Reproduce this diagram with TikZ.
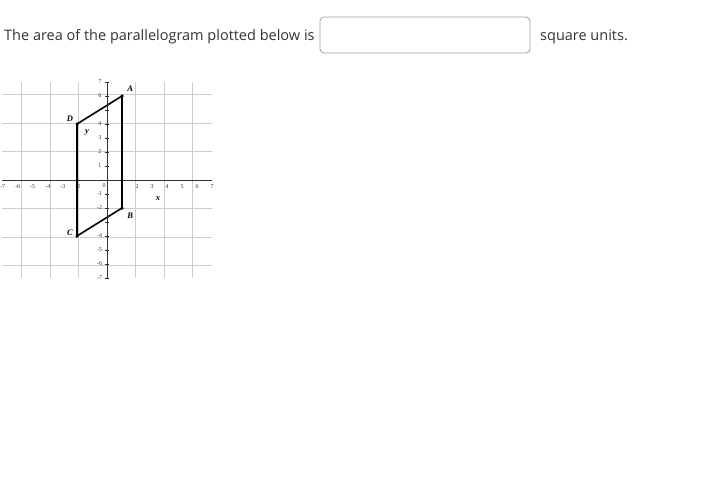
\documentclass[tikz,border=0pt]{standalone}
\usepackage{fontspec}
\setmainfont{Open Sans}
\newfontfamily\axfont{Liberation Serif}
\definecolor{txt}{HTML}{333333}
\tikzset{
  qtext/.style={anchor=west, text=txt, font=\fontsize{14.5}{17}\selectfont, inner sep=0pt},
  ansbox/.style={draw=gray!75, rounded corners=4pt, line width=0.8pt, minimum width=210pt, minimum height=36pt},
  ticklbl/.style={font=\axfont\fontsize{6}{7}\selectfont, inner sep=0pt, text=black!80},
  vlbl/.style={font=\axfont\bfseries\itshape\fontsize{8.5}{9}\selectfont, inner sep=0pt},
  gridline/.style={gray!40, line width=0.5pt},
  axisline/.style={black!80, line width=0.6pt},
  edge/.style={black, line width=1.6pt},
  vdot/.style={circle, fill=black, inner sep=0pt, minimum size=3.5pt}
}
\begin{document}
\begin{tikzpicture}[x=1pt,y=-1pt]
\useasboundingbox (0,0) rectangle (722,503);
\node[qtext] (q) at (4,36.5) {The area of the parallelogram plotted below is};
\node[ansbox] (ans) at (425,35) {};
\node[qtext] (u) at (540,36.5) {square units.};
\begin{scope}[shift={(107,180)}, x=15pt, y=14pt]
  \draw[gridline] (-7,-7) grid (7,7);
  \draw[axisline] (-7,0) -- (7,0);
  \draw[axisline] (0,-7) -- (0,7);
  \foreach \v in {-7,...,7} {\draw[axisline, line width=0.4pt] (-0.15,\v) -- (0.15,\v);}
  \foreach \v in {-7,-6,-5,-4,-3,-2} {\node[ticklbl] (xl\v) at (\v+0.05,-0.45) {\v};}
  \foreach \v in {2,3,4,5,6,7} {\node[ticklbl] (xl\v) at (\v,-0.45) {\v};}
  \node[ticklbl] (o) at (-0.2,-0.4) {0};
  \foreach \v in {1,2,3,4,6,7} {\node[ticklbl] (yl\v) at (-0.47,\v) {\v};}
  \foreach \v in {-1,-2,-4,-5,-6,-7} {\node[ticklbl] (yl\v) at (-0.5,\v) {\v};}
  \node[vlbl] (xlab) at (3.4,-1.36) {x};
  \node[vlbl] (ylab) at (-1.33,3.43) {y};
  \node[vdot] (A) at (1,6) {};
  \node[vdot] (B) at (1,-2) {};
  \node[vdot] (C) at (-2,-4) {};
  \node[vdot] (D) at (-2,4) {};
  \draw[edge] (A.center) -- (B.center) -- (C.center) -- (D.center) -- cycle;
  \node[vlbl] (la) at (1.55,6.5) {A};
  \node[vlbl] (lb) at (1.55,-2.55) {B};
  \node[vlbl] (lc) at (-2.47,-3.8) {C};
  \node[vlbl] (ld) at (-2.47,4.35) {D};
\end{scope}
\end{tikzpicture}
\end{document}
